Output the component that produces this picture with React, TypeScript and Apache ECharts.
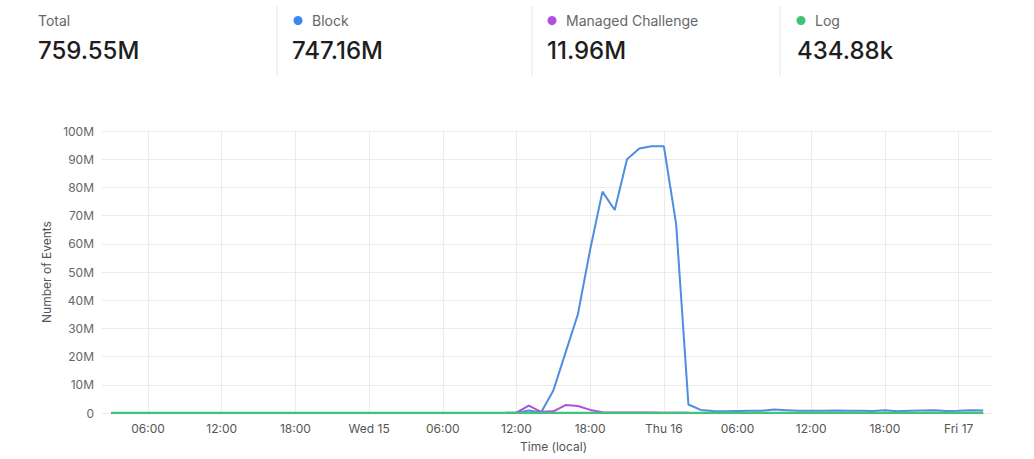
import React, { useEffect, useRef } from "react";
import * as echarts from "echarts";

// ---- time axis (hours counted from Tue 14 00:00, local) ----
const FIRST_HOUR = 3;
const AXIS_MIN_HOUR = 2.25;
const AXIS_MAX_HOUR = 74.8;
const TICK_HOURS = [6, 12, 18, 24, 30, 36, 42, 48, 54, 60, 66, 72];
const DAY_LABELS = ["Tue 14", "Wed 15", "Thu 16", "Fri 17"];

// ---- header summary ----
const summaryLabels = ["Total", "Block", "Managed Challenge", "Log"];
const summaryValues = ["759.55M", "747.16M", "11.96M", "434.88k"];

// ---- series ----
const seriesNames = ["Block", "Managed Challenge", "Log"];
const seriesColors = ["#4f8de2", "#b04fdc", "#45c17c"];
const dotColors = ["#3b86f2", "#b24de6", "#3ec477"];

// values in millions, hourly from Tue 03:00 to Fri 02:00
const blockValues = [
  0.02, 0.02, 0.02, 0.02, 0.02, 0.02, 0.02, 0.02, 0.02, 0.02, 0.02,
  0.02, 0.02, 0.02, 0.02, 0.02, 0.02, 0.02, 0.02, 0.02, 0.02, 0.02,
  0.02, 0.02, 0.02, 0.02, 0.02, 0.02, 0.02, 0.02, 0.02, 0.02, 0.02,
  0.1, 0.9, 0.2, 8, 21.5, 35, 58, 78.5, 72, 90, 93.8, 94.6, 94.6, 67, 3, 1.1,
  0.7, 0.6, 0.7, 0.8, 0.8, 1.2, 1.0, 0.8, 0.8, 0.8, 0.9, 0.8, 0.8, 0.7, 1.0,
  0.6, 0.8, 0.9, 1.0, 0.7, 0.8, 1.0, 0.9,
];
const challengeValues = [
  0.01, 0.01, 0.01, 0.01, 0.01, 0.01, 0.01, 0.01, 0.01, 0.01, 0.01,
  0.01, 0.01, 0.01, 0.01, 0.01, 0.01, 0.01, 0.01, 0.01, 0.01, 0.01,
  0.01, 0.01, 0.01, 0.01, 0.01, 0.01, 0.01, 0.01, 0.01, 0.01, 0.01,
  0.1, 2.6, 0.4, 0.6, 2.8, 2.5, 1.1, 0.3, 0.2, 0.2, 0.15, 0.15, 0.12, 0.1, 0.05, 0.03,
  0.02, 0.02, 0.02, 0.02, 0.02, 0.02, 0.02, 0.02, 0.02, 0.02, 0.02, 0.02, 0.02, 0.02, 0.02,
  0.02, 0.02, 0.02, 0.02, 0.02, 0.02, 0.02, 0.02,
];
const logValues = [
  0.006, 0.005, 0.006, 0.006, 0.005, 0.006, 0.007, 0.006, 0.006, 0.005, 0.006,
  0.006, 0.007, 0.006, 0.005, 0.006, 0.006, 0.006, 0.007, 0.006, 0.005, 0.006,
  0.006, 0.006, 0.005, 0.006, 0.007, 0.006, 0.006, 0.006, 0.005, 0.006, 0.006,
  0.006, 0.007, 0.006, 0.006, 0.007, 0.006, 0.006, 0.006, 0.006, 0.007, 0.006, 0.006, 0.006, 0.006, 0.006, 0.006,
  0.006, 0.006, 0.005, 0.006, 0.006, 0.006, 0.007, 0.006, 0.006, 0.006, 0.005, 0.006, 0.006, 0.006, 0.006,
  0.006, 0.006, 0.007, 0.006, 0.006, 0.006, 0.005, 0.006,
];

const yTickMax = 100;
const yTickStep = 10;

const FONT = "Inter, 'Noto Sans', sans-serif";

export default function App() {
  const ref = useRef<HTMLDivElement>(null);

  useEffect(() => {
    if (!ref.current) return;
    const chart = echarts.init(ref.current, null, { renderer: "svg" });

    const hours = blockValues.map((_, i) => FIRST_HOUR + i);
    const allValues = [blockValues, challengeValues, logValues];

    const fmtX = (val: number) => {
      const h = Math.round(val);
      const hod = ((h % 24) + 24) % 24;
      if (hod === 0) return DAY_LABELS[Math.floor(h / 24)] || "";
      return `${String(hod).padStart(2, "0")}:00`;
    };

    // header graphic
    const colValueX = [38, 292, 547, 797];
    const colLabelX = [38, 312, 566, 815];
    const colDotX = [0, 298, 552, 801];
    const sepX = [277, 532, 780];
    const graphic: any[] = [];
    sepX.forEach((x) => {
      graphic.push({
        type: "line",
        shape: { x1: x, y1: 6, x2: x, y2: 76 },
        style: { stroke: "#e6e6e6", lineWidth: 1 },
      });
    });
    summaryLabels.forEach((lab, i) => {
      if (i > 0) {
        graphic.push({
          type: "circle",
          shape: { cx: colDotX[i], cy: 20.5, r: 4.5 },
          style: { fill: dotColors[i - 1] },
        });
      }
      graphic.push({
        type: "text",
        x: colLabelX[i],
        y: 20.5,
        style: {
          text: lab,
          fill: "#666",
          font: `14px ${FONT}`,
          verticalAlign: "middle",
          align: "left",
        },
      });
      graphic.push({
        type: "text",
        x: colValueX[i],
        y: 50,
        style: {
          text: summaryValues[i],
          fill: "#1e1e1e",
          font: `500 24px ${FONT}`,
          verticalAlign: "middle",
          align: "left",
        },
      });
    });

    chart.setOption({
      animation: false,
      backgroundColor: "#ffffff",
      textStyle: { fontFamily: FONT },
      graphic,
      grid: {
        left: 102,
        right: 41,
        top: 131,
        bottom: 46,
        containLabel: false,
        outerBoundsMode: "none",
      },
      xAxis: {
        type: "value",
        min: AXIS_MIN_HOUR,
        max: AXIS_MAX_HOUR,
        name: "Time (local)",
        nameLocation: "middle",
        nameGap: 27,
        nameTextStyle: { color: "#555", fontSize: 12, fontFamily: FONT, padding: [0, 0, 0, 12] },
        axisLine: { show: false },
        axisTick: { show: false, customValues: TICK_HOURS },
        axisLabel: {
          customValues: TICK_HOURS,
          formatter: fmtX,
          color: "#555",
          fontSize: 12,
          margin: 9,
          fontFamily: FONT,
          hideOverlap: false,
          showMinLabel: true,
          showMaxLabel: true,
        },
        splitLine: { show: true, lineStyle: { color: "#ebebeb", width: 1 } },
      },
      yAxis: {
        type: "value",
        min: 0,
        max: yTickMax,
        interval: yTickStep,
        name: "Number of Events",
        nameLocation: "middle",
        nameGap: 49,
        nameTextStyle: { color: "#555", fontSize: 12, fontFamily: FONT },
        axisLine: { show: false },
        axisTick: { show: false },
        axisLabel: {
          formatter: (v: number) => (v === 0 ? "0" : `${v}M`),
          color: "#666",
          fontSize: 12,
          margin: 8,
          fontFamily: FONT,
        },
        splitLine: { show: true, lineStyle: { color: "#ebebeb", width: 1 } },
      },
      series: allValues.map((vals, i) => ({
        name: seriesNames[i],
        type: "line",
        data: vals.map((v, j) => [hours[j], v]),
        symbol: "none",
        showSymbol: false,
        lineStyle: { width: i === 2 ? 2.5 : 2, color: seriesColors[i] },
        itemStyle: { color: seriesColors[i] },
        z: 2 + i,
      })),
    });

    return () => chart.dispose();
  }, []);

  return (
    <div
      ref={ref}
      style={{ position: "absolute", left: 0, top: 0, width: 1034, height: 459 }}
    />
  );
}
